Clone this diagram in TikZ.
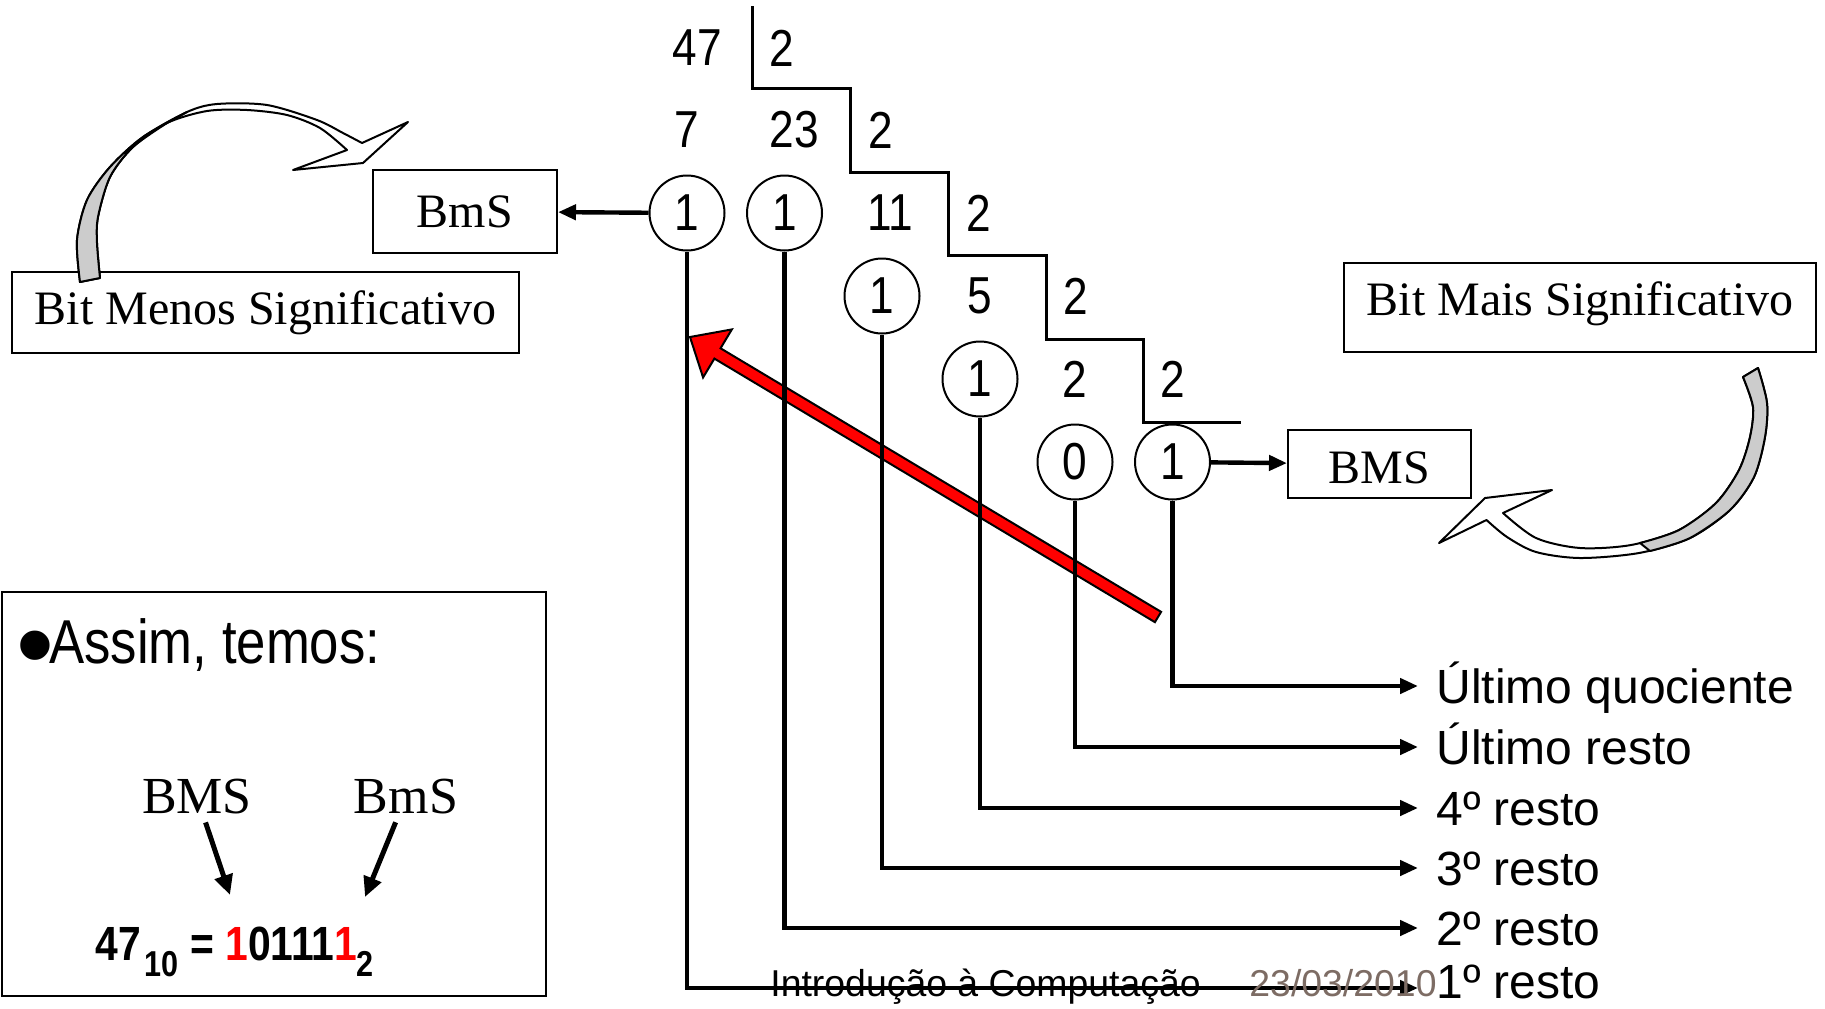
\documentclass[tikz,border=0pt]{standalone}
\usepackage{fontspec}
\setmainfont{Liberation Serif}
\setsansfont{Liberation Sans}
\newfontfamily\narrowsf[FakeStretch=0.85]{Liberation Sans}
\usetikzlibrary{shapes,arrows.meta,calc}
\definecolor{footgray}{RGB}{125,108,100}
\definecolor{ribbongray}{RGB}{204,204,204}
\tikzstyle{digit} = [font=\narrowsf\fontsize{26}{26}\selectfont, inner sep=0pt]
\tikzstyle{bitcircle} = [circle, draw, line width=1pt, minimum size=37.5pt, inner sep=0pt,
font=\narrowsf\fontsize{26}{26}\selectfont]
\tikzstyle{box} = [rectangle, draw, line width=1pt, inner sep=0pt, text height=17.3pt,
text depth=5.3pt, font=\fontsize{24}{24}\selectfont]
\tikzstyle{smallbox} = [box, text height=15.8pt, text depth=0pt]
\tikzstyle{line} = [draw, line width=2.2pt, -{Triangle[length=9pt,width=7.5pt]}]
\tikzstyle{pointer} = [draw, line width=2.5pt, shorten <=4pt, -{Triangle[length=10pt,width=9pt]}]
\tikzstyle{restlabel} = [anchor=west, inner xsep=9pt, inner ysep=0pt, text height=17.3pt,
text depth=0pt, font=\sffamily\fontsize{24}{24}\selectfont]
\tikzstyle{stair} = [draw, line width=1.5pt]
\tikzstyle{ribbon} = [draw, line width=1pt, fill=white, line join=round]
\tikzstyle{ribbonback} = [draw, line width=1pt, fill=ribbongray, line join=round]
\tikzstyle{redarrow} = [draw, line width=1pt, fill=red]

\begin{document}
\begin{tikzpicture}[x=0.5pt, y=-0.5pt, node distance=48.75pt]
			\useasboundingbox (0,0) rectangle (1825,1008);
			% successive divisions by 2
			\draw [stair] (752,6) |- (850,88) |- (948,172) |- (1046,255) |- (1143,339) |- (1241,422);
			\node [digit] (n47) at (697,48) {47};
			\node [digit] (div0) at (782,48) {2};
			\node [bitcircle] (b0) at (687,213) {1};
			\node [bitcircle, right of=b0] (b1) {1};
			\node [digit, above of=b0, node distance=41.5pt] (n7) {7};
			\node [digit] (n23) at (794,130) {23};
			\node [digit] (div1) at (881,130) {2};
			\node [digit] (n11) at (890,213) {11};
			\node [digit] (div2) at (979,213) {2};
			\node [bitcircle] (b2) at (882,296) {1};
			\node [bitcircle] (b3) at (980,379) {1};
			\node [digit, above of=b3, node distance=41.5pt] (n5) {5};
			\node [digit] (div3) at (1076,296) {2};
			\node [bitcircle] (b4) at (1075,462) {0};
			\node [bitcircle, right of=b4] (b5) {1};
			\node [digit, above of=b4, node distance=41.5pt] (n2) {2};
			\node [digit, right of=n2] (div4) {2};
			% red arrow over the remainders
			\coordinate (redtail) at (1158,617);
			\coordinate (redtip) at (690,337);
			\coordinate (redbase) at ($(redtip)!16pt!(redtail)$);
			\path [redarrow] ($(redtail)!3pt!90:(redtip)$) -- ($(redbase)!3pt!90:(redtip)$)
				-- ($(redbase)!14pt!90:(redtip)$) -- (redtip) -- ($(redbase)!14pt!-90:(redtip)$)
				-- ($(redbase)!3pt!-90:(redtip)$) -- ($(redtail)!3pt!-90:(redtip)$) -- cycle;
			% boxes
			\node [smallbox, minimum width=92pt, minimum height=41.5pt] (lsbbox) at (465,211.5) {BmS};
			\node [box, minimum width=253.5pt, minimum height=40.5pt] (lsbname) at (265.5,312.5) {Bit Menos Significativo};
			\node [smallbox, minimum width=91.5pt, minimum height=34pt, text height=19.8pt] (msbbox) at (1379.5,464) {BMS};
			\node [box, minimum width=236pt, minimum height=44.5pt, text depth=9.3pt] (msbname) at (1580,307.5) {Bit Mais Significativo};
			% curved block arrows
			\path [ribbon] plot [smooth] coordinates {(80,282) (77,240) (87,200) (110,167) (143,137) (187,112) (217,104) (267,105) (317,120) (343,133) (362,143)}
				-- (408,122) -- (363,163) -- (293,170) -- (347,150)
				-- plot [smooth] coordinates {(347,150) (320,128) (287,115) (247,110) (207,111) (167,123) (133,147) (110,177) (98,217) (97,243) (100,278)} -- cycle;
			\path [ribbonback] plot [smooth] coordinates {(80,282) (77,240) (87,200) (110,167) (143,137) (187,112)}
				-- plot [smooth] coordinates {(167,123) (133,147) (110,177) (98,217) (97,243) (100,278)} -- cycle;
			\path [ribbon] plot [smooth] coordinates {(1758,368) (1767,403) (1765,437) (1754,477) (1730,510) (1690,538) (1639,553) (1580,558) (1536,552) (1507,537) (1486.5,520)}
				-- (1439,543) -- (1485,498) -- (1552,490) -- (1503,513)
				-- plot [smooth] coordinates {(1503,513) (1536,538) (1580,548) (1631,545) (1679,530) (1716,503) (1739,470) (1750,437) (1753,407) (1743,377)} -- cycle;
			\path [ribbonback] plot [smooth] coordinates {(1758,368) (1767,403) (1765,437) (1754,477) (1730,510) (1690,538) (1650,551)}
				-- plot [smooth] coordinates {(1640,543) (1679,530) (1716,503) (1739,470) (1750,437) (1753,407) (1743,377)} -- cycle;
			% names of the remainders
			\node [restlabel] (lastq) at (1418,686) {Último quociente};
			\node [restlabel] (lastr) at (1418,747) {Último resto};
			\node [restlabel] (r4) at (1418,808) {4º resto};
			\node [restlabel] (r3) at (1418,868) {3º resto};
			\node [restlabel] (r2) at (1418,928) {2º resto};
			\node [restlabel, text depth=7pt] (r1) at (1418,988) {1º resto};
			\path [line] (b0) -- (lsbbox);
			\path [line] (b5) -- (msbbox);
			\path [line] (b5) |- (lastq.west);
			\path [line] (b4) |- (lastr.west);
			\path [line] (b3) |- (r4.west);
			\path [line] (b2) |- (r3.west);
			\path [line] (b1) |- (r2.west);
			\path [line] (b0) |- (r1.west);
			% summary
			\node [box, minimum width=272pt, minimum height=202pt] (summary) at (274,794) {};
			\node [inner sep=0pt, font=\sffamily\fontsize{54}{54}\selectfont] (bullet) at (35,656) {•};
			\node [anchor=base west, inner sep=0pt, font=\narrowsf\fontsize{31}{31}\selectfont] (assim) at (49,663) {Assim, temos:};
			\node [inner sep=0pt, font=\fontsize{26}{26}\selectfont] (bmslabel) at (197,797) {BMS};
			\node [inner sep=0pt, font=\fontsize{26}{26}\selectfont] (bmslabel2) at (406,797) {BmS};
			\node [anchor=base west, inner sep=0pt, font=\narrowsf\bfseries\fontsize{24}{24}\selectfont] (formula) at (95,960)
				{47\kern2pt\raisebox{-8pt}{\fontsize{18}{18}\selectfont 10} = \textcolor{red}{1}0111\textcolor{red}{1}\raisebox{-8pt}{\fontsize{18}{18}\selectfont 2}};
			\coordinate (msbtip) at (230,895);
			\coordinate (lsbtip) at (365,897);
			\path [pointer] (bmslabel) -- (msbtip);
			\path [pointer] (bmslabel2) -- (lsbtip);
			% footer
			\node [anchor=base west, inner sep=0pt, font=\sffamily\fontsize{18.7}{18.7}\selectfont] (course) at (770,996) {Introdução à Computação};
			\node [anchor=base west, inner sep=0pt, font=\sffamily\fontsize{18.7}{18.7}\selectfont, text=footgray] (date) at (1249,996) {23/03/2010};
		\end{tikzpicture}
\end{document}
